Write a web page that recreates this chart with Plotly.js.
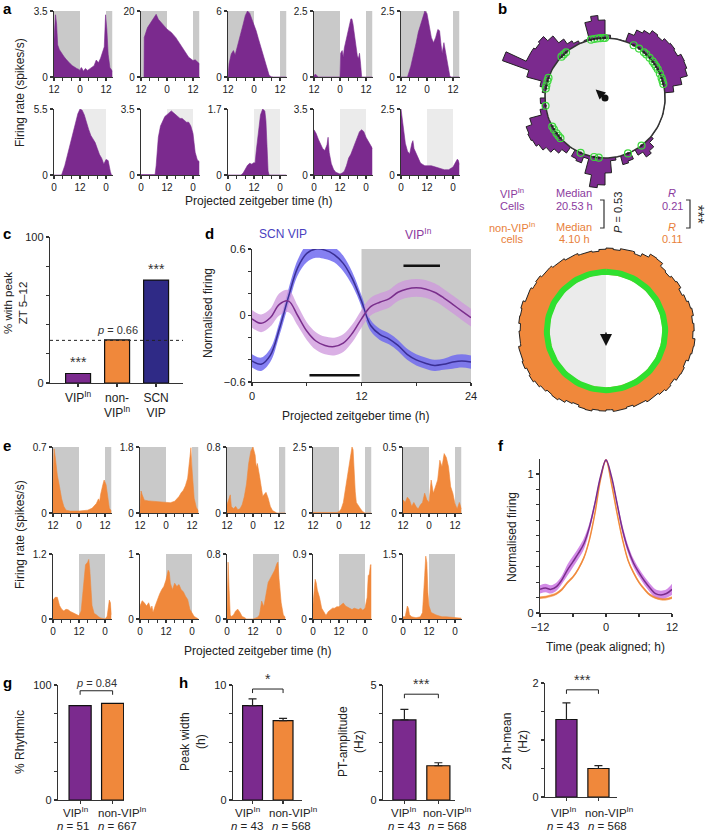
<!DOCTYPE html>
<html>
<head>
<meta charset="utf-8">
<script src="https://cdn.plot.ly/plotly-3.0.1.min.js"></script>
<style>body{margin:0;background:#fff}#fig{width:706px;height:834px}</style>
</head>
<body>
<div id="fig"></div>
<script>
// ---------- data ----------
const vipColor = '#7b2a8e';
const nonColor = '#f0883b';
const scnColor = '#2f2a86';

// panel a: example VIP-In units (time in h from axis start, rate in spikes/s)
const vipUnitMax = [3.5, 20, 6, 2.5, 2.5, 5.5, 3.5, 1.7, 3.5, 2.5];
const vipUnitT = [
  [0,0.7,1.2,1.7,2.5,3.5,4.5,5.5,6.5,7.5,8.5,9.5,10.5,11.5,12,12.5,13,13.5,14.5,15.5,16.5,17.5,18.5,19.5,20.5,21.5,22.5,23.2,23.8,24.4,25,25.8,27],
  [1.4,1.5,3,5,6,7,8,10,12,14,16,18,20,22,23,24,25,26,27],
  [0,0.5,1.5,2.5,3.3,4,5,6,7,8,9,10,11,12,13,14,15,16,17,18,19,20,21,27],
  [0,0.5,1,1.5,2,12,12.3,13,13.5,14,15,16,17,17.5,18,19,19.5,20,20.5,21,21.5,22,27],
  [0,3,4.5,6,7,8,9,10,11,12,13,14,15,16,17,17.8,18.5,19,19.8,20.5,21.5,22.5,23,27],
  [0,3.5,5,7,9,11,12,13,14,15,16,17,18,19,20,21,22,23,24,25,26,26.5,27],
  [0,6.5,7,8,9,10,11,12,13,14,15,16,17,18,19,20,21,22,23,24,25,26,27],
  [0,6,7,8,9,10,11,12,12.5,13,14,15,16,17,17.5,18,18.5,19,27],
  [0,1,2,3,4,5,6,6.5,7,8,9,10,11,12,13,14,15,16,17,18,19,20,21,22,23,24,25,26,27],
  [0,0.5,1,2,3,4,5,5.5,6,7,8,9,10,11,12,14,16,18,20,22,24,25,26,26.5,27]
];
const vipUnitRate = [
  [2.0,3.3,2.8,1.7,1.45,1.25,1.1,0.95,0.8,0.7,0.6,0.5,0.45,0.4,0.35,0.5,0.45,0.3,0.45,0.35,0.45,0.5,0.6,0.9,0.75,1.0,1.3,1.6,3.3,2.5,1.2,0.5,0.3],
  [0,12,15,17,18,19,17.5,16,14.5,13.5,12,10,8,6,5.5,5,5.2,4.5,4],
  [0,1.2,2.1,2.4,2.0,2.5,3.2,4.0,4.8,5.6,6.0,5.8,5.3,4.8,4.2,3.5,2.8,2.0,1.3,0.6,0.15,0.02,0,0],
  [0.05,0.1,0.08,0.05,0,0,0.9,1.0,0.75,1.1,1.5,1.9,2.2,2.2,2.0,1.4,1.0,0.8,0.7,0.9,0.5,0,0],
  [0,0,0.4,0.9,1.3,1.7,2.0,2.3,2.5,2.4,1.9,1.5,1.3,1.5,1.8,1.75,1.2,0.9,1.3,1.0,0.5,0.05,0,0],
  [0,0,0.8,2.3,3.8,5.1,5.5,5.4,5.0,4.3,3.8,3.3,3.0,2.7,2.2,1.7,1.4,0.9,1.3,1.2,0.3,0,0],
  [0.02,0.02,0.5,2.0,2.6,2.9,3.1,3.2,3.3,3.4,3.3,3.2,3.1,3.0,3.0,2.9,2.8,2.8,2.6,2.2,1.2,0.8,0.7],
  [0,0,0.05,0.15,0.25,0.3,0.28,0.32,0.3,0.6,1.1,1.55,1.7,1.65,1.4,0.5,0.1,0,0],
  [2.4,2.2,1.9,1.6,1.4,1.3,1.6,2.0,1.2,0.6,0.3,0.15,0.1,0.05,0.1,0.2,0.5,0.9,1.1,1.4,1.7,2.0,2.3,2.4,2.3,2.0,1.8,1.6,1.4],
  [2.5,2.2,1.8,1.2,0.9,0.8,1.2,1.3,1.0,0.8,0.6,0.45,0.4,0.35,0.35,0.35,0.3,0.25,0.2,0.2,0.3,0.45,0.6,0.55,0.4]
];

// panel e: example non-VIP-In units
const nonUnitMax = [0.7, 1.8, 0.8, 2.5, 0.5, 1.2, 1, 0.8, 0.9, 1.5];
const nonUnitT = [
  [0,0.5,1,2,3,4,5,6,8,12,16,18,20,21,21.5,22,23,23.6,24.5,25,26,27],
  [0,0.5,1,2,4,6,8,10,12,14,16,17,18,19,20,21,22,23,23.5,24,25,26,27],
  [0,1,1.5,2,3,4,5,6,7,8,9,10,11,12,13,13.5,14,15,16,16.5,17,18,19,20,21,22,23,27],
  [0,11,12,13,14,15,16,17,18,18.5,19,19.5,20,21,22,23,24,27],
  [0,1,2,3,4,5,6,7,8,9,10,11,12,12.5,13,14,15,16,17,18,19,20,21,22,23,24,25,26,27],
  [0,1,2,3,4,5,6,7,8,9,10,11,12,13,14,15,16,16.5,17,18,19,20,21,22,24,25,26,26.5,27],
  [0,1,2,3,4,5,5.5,6,7,8,9,10,11,12,13,13.5,14,15,16,17,18,19,20,21,22,23,24,25,26,27],
  [0,0.5,1,1.5,2,3,4,5,6,7,8,9,12,14,15,16,17,18,19,20,21,22,23,23.5,24,25,26,27],
  [0,0.5,1,1.5,2,3,4,5,6,7,8,9,10,11,12,13,14,15,16,17,18,19,20,21,22,23,24,24.5,25,25.5,26,26.5,27],
  [0,1,2,2.5,3,4,5,6,7,8,9,9.5,10,10.5,11,11.5,12,13,14,15,16,18,20,22,24,26,27]
];
const nonUnitRate = [
  [0.3,0.68,0.6,0.4,0.28,0.15,0.07,0.03,0.02,0.02,0.03,0.05,0.1,0.15,0.12,0.2,0.3,0.35,0.3,0.2,0.05,0.02],
  [0.15,0.6,0.5,0.35,0.33,0.32,0.33,0.32,0.3,0.28,0.32,0.38,0.45,0.55,0.62,0.75,0.95,1.5,1.78,1.2,0.4,0.15,0.05],
  [0.1,0.2,0.22,0.08,0.05,0.08,0.04,0.05,0.1,0.2,0.35,0.6,0.75,0.8,0.7,0.55,0.6,0.45,0.3,0.2,0.22,0.25,0.18,0.08,0.03,0.01,0,0],
  [0.02,0.02,0.05,0.15,0.4,0.9,1.5,2.0,2.5,2.4,1.5,0.8,0.4,0.25,0.15,0.05,0,0],
  [0.1,0.08,0.12,0.1,0.05,0.08,0.05,0.03,0.06,0.08,0.15,0.1,0.08,0.2,0.25,0.15,0.2,0.25,0.4,0.35,0.45,0.42,0.35,0.2,0.15,0.07,0.03,0.08,0.03],
  [0.35,0.4,0.4,0.25,0.18,0.15,0.18,0.17,0.14,0.12,0.1,0.08,0.06,0.15,0.55,1.0,1.05,1.1,0.9,0.25,0.1,0.08,0.04,0.02,0,0.05,0.35,0.3,0.08],
  [0.2,0.28,0.25,0.2,0.25,0.15,0.2,0.1,0.2,0.3,0.38,0.45,0.5,0.6,0.75,0.72,0.55,0.45,0.55,0.5,0.53,0.45,0.42,0.35,0.3,0.15,0.1,0.04,0.02,0],
  [0.1,0.7,0.35,0.05,0.03,0.05,0.1,0.12,0.08,0.03,0.02,0,0,0.02,0.05,0.22,0.15,0.3,0.45,0.5,0.55,0.6,0.68,0.7,0.5,0.2,0.05,0.02],
  [0.2,0.45,0.55,0.5,0.4,0.3,0.15,0.1,0.05,0.1,0.12,0.15,0.15,0.17,0.17,0.2,0.22,0.18,0.16,0.15,0.13,0.15,0.14,0.13,0.15,0.12,0.15,0.25,0.3,0.6,0.62,0.75,0.75],
  [0.05,0.05,0.3,0.25,0.1,0.05,0.04,0.03,0.04,0.05,0.15,0.5,1.0,1.45,1.3,0.6,0.3,0.15,0.12,0.1,0.08,0.05,0.05,0.04,0.03,0.02,0.02]
];
// shaded (dark) periods on the 0-27 h window
const shadeRow1 = [[0, 12], [24, 27]];
const shadeRow2 = [[12, 24]];

// panel b: phase histograms (outer radius per 5 deg bin, circle = 1)
const vipPolarR = [1.05,1.0,1.0,1.0,1.15,1.25,1.3,1.37,1.35,1.4,1.42,1.4,1.46,1.45,1.42,1.3,1.15,1.0,
  1.0,1.0,1.0,1.0,1.0,1.0,1.0,1.0,
  1.05,1.15,1.2,1.1,1.0,1.12,1.15,1.0,1.05,1.25,
  1.45,1.5,1.3,1.05,1.15,1.12,1.0,1.12,1.2,1.28,1.35,1.4,1.42,1.4,1.3,1.1,1.05,1.08,
  1.0,1.05,1.1,1.35,1.82,1.45,1.45,1.42,1.45,1.35,1.2,1.1,1.05,1.0,1.02,1.3,1.38,1.3];
const nonVipPolarR = [1.43,1.41,1.44,1.45,1.42,1.47,1.53,1.52,1.46,1.44,1.47,1.49,1.45,1.48,1.51,1.53,1.50,1.52,
  1.50,1.54,1.53,1.51,1.47,1.49,1.48,1.44,1.46,1.43,1.40,1.41,1.38,1.39,1.36,1.38,1.39,1.36,
  1.38,1.37,1.40,1.39,1.36,1.38,1.42,1.45,1.44,1.47,1.50,1.53,1.51,1.54,1.52,1.53,1.49,1.50,
  1.48,1.51,1.50,1.52,1.48,1.49,1.46,1.48,1.45,1.46,1.43,1.44,1.41,1.42,1.39,1.40,1.38,1.41];
const vipCellPhaseH = [23.1,23.3,23.5,23.7,23.9,0.0,1.9,2.3,2.7,2.9,3.2,3.5,3.7,3.9,4.1,4.4,4.7,4.9,5.1,
  9.5,10.5,12.4,12.7,13.6,15.2,15.4,15.6,15.9,16.1,17.5,18.6,18.8,19.1,19.3,20.9,21.1,21.3];
const vipMeanPhaseH = 20.8, vipVectorR = 0.21;
const nonVipMeanPhaseH = 12.0, nonVipArrowLen = 0.26;

// panel c
const peakCats = ['VIP<sup>In</sup>', 'non-<br>VIP<sup>In</sup>', 'SCN<br>VIP'];
const peakPct = [6.5, 29.5, 70.5];
const peakSig = ['***', '<i>p</i> = 0.66', '***'];
const chancePct = 29.2;

// panel d
const dTime = [0,1,2,3,4,5,6,7,8,9,10,11,12,13,14,15,16,17,18,19,20,21,22,23,24];
const scnMean = [-0.41,-0.44,-0.36,-0.12,0.17,0.43,0.56,0.6,0.59,0.55,0.47,0.33,0.13,-0.09,-0.17,-0.21,-0.27,-0.35,-0.4,-0.43,-0.45,-0.44,-0.42,-0.41,-0.42];
const scnSem = [0.06,0.06,0.06,0.06,0.07,0.07,0.08,0.08,0.08,0.07,0.07,0.06,0.05,0.05,0.05,0.05,0.05,0.05,0.05,0.05,0.05,0.05,0.06,0.06,0.06];
const vipMean = [-0.03,-0.07,-0.02,0.10,0.13,0.0,-0.14,-0.23,-0.27,-0.28,-0.25,-0.16,-0.03,0.08,0.12,0.15,0.21,0.24,0.25,0.24,0.21,0.16,0.1,0.04,-0.02];
const vipSem = [0.08,0.08,0.08,0.1,0.1,0.09,0.08,0.08,0.08,0.08,0.08,0.08,0.08,0.08,0.08,0.08,0.08,0.08,0.08,0.08,0.08,0.08,0.08,0.08,0.08];
const dSigStart = [6.3, 16.6], dSigEnd = [11.8, 20.6], dSigLevel = [-0.54, 0.45];

// panel f
const fTime = [-12,-11,-10,-9,-8,-7,-6,-5,-4,-3,-2,-1,0,1,2,3,4,5,6,7,8,9,10,11,12];
const fVip = [0.17,0.18,0.17,0.19,0.24,0.31,0.37,0.43,0.50,0.62,0.79,0.98,1.10,0.98,0.79,0.60,0.46,0.36,0.29,0.23,0.18,0.14,0.13,0.14,0.17];
const fVipSem = [0.03,0.03,0.03,0.03,0.03,0.04,0.04,0.04,0.04,0.03,0.02,0.01,0.01,0.01,0.02,0.03,0.03,0.03,0.03,0.03,0.03,0.03,0.03,0.03,0.04];
const fNon = [0.11,0.115,0.125,0.14,0.17,0.22,0.26,0.32,0.40,0.53,0.72,0.96,1.10,0.93,0.72,0.53,0.38,0.29,0.22,0.17,0.13,0.11,0.10,0.10,0.11];
const fNonSem = [0.01,0.01,0.01,0.01,0.01,0.01,0.01,0.01,0.01,0.01,0.01,0.01,0.01,0.01,0.01,0.01,0.01,0.01,0.01,0.01,0.01,0.01,0.01,0.01,0.01];

// panels g, h
const groupNames = ['VIP<sup>In</sup>', 'non-VIP<sup>In</sup>'];
const rhythmicPct = [82, 84];
const rhythmicN = [51, 667];
const peakWidth = [8.2, 6.9], peakWidthSem = [0.6, 0.2];
const ptAmp = [3.48, 1.49], ptAmpSem = [0.46, 0.13];
const mean24 = [1.36, 0.5], mean24Sem = [0.29, 0.05];
const propN = [43, 568];

// ---------- helpers ----------
const W = 706, H = 834;
const fx = v => v / W;
const fy = v => 1 - v / H;
const FONT = 'Liberation Sans, Arial, sans-serif';
const traces = [], shapes = [], annotations = [];
const layout = {
  width: W, height: H, margin: {l: 0, r: 0, t: 0, b: 0},
  paper_bgcolor: '#fff', plot_bgcolor: 'rgba(0,0,0,0)', showlegend: false,
  font: {family: FONT, size: 11, color: '#222'}
};

function baseAxis() {
  return {showline: true, linecolor: '#333', linewidth: 1.3, ticks: 'outside', ticklen: 3,
    tickwidth: 1.2, tickcolor: '#333', showgrid: false, zeroline: false,
    tickfont: {size: 10, color: '#222'}, fixedrange: true, automargin: false};
}
function minorTicks(dtick, len) {
  return {tickmode: 'linear', tick0: 0, dtick: dtick, ticks: 'outside', ticklen: len || 2.5, tickwidth: 1.1, tickcolor: '#333', showgrid: false};
}
let axN = 0;
function newAxes(xPx, yPx, xOpt, yOpt) {
  axN++;
  const s = axN === 1 ? '' : String(axN);
  layout['xaxis' + s] = Object.assign(baseAxis(), {domain: [fx(xPx[0]), fx(xPx[1])], anchor: 'y' + s}, xOpt);
  layout['yaxis' + s] = Object.assign(baseAxis(), {domain: [fy(yPx[1]), fy(yPx[0])], anchor: 'x' + s}, yOpt);
  return {x: 'x' + s, y: 'y' + s};
}
function note(x, y, text, size, color, extra) {
  annotations.push(Object.assign({xref: 'paper', yref: 'paper', x: fx(x), y: fy(y), text: text,
    showarrow: false, xanchor: 'center', yanchor: 'middle',
    font: {family: FONT, size: size || 12, color: color || '#222'}}, extra || {}));
}
function panelLabel(x, y, t) { note(x, y, '<b>' + t + '</b>', 15, '#000', {xanchor: 'left'}); }

// small firing-rate panels
function unitPanel(x0, rowY, t, r, max, color, shade, spans, labels) {
  const a = newAxes([x0, x0 + 58.5], rowY,
    {range: [0, 27], tickvals: [0, 12, 24], ticktext: labels, ticklen: 3, minor: minorTicks(4, 2.5)},
    {range: [0, max], tickvals: [0, max], ticktext: ['0', String(max)]});
  traces.push({type: 'scatter', mode: 'lines', x: t, y: r, xaxis: a.x, yaxis: a.y,
    fill: 'tozeroy', fillcolor: color, line: {color: color, width: 0.6}, hoverinfo: 'skip'});
  spans.forEach(s => shapes.push({type: 'rect', xref: a.x, yref: a.y + ' domain', x0: s[0], x1: s[1], y0: 0, y1: 1,
    fillcolor: shade, line: {width: 0}, layer: 'below'}));
}
const lab1 = ['12', '0', '12'];
const lab2 = ['0', '12', '0'];
const aX = [54, 141, 228, 314, 401];
const eX = [53, 140, 227, 313, 403];
for (let i = 0; i < 10; i++) {
  const row = Math.floor(i / 5), col = i % 5;
  unitPanel(aX[col], row ? [109, 175] : [11, 77], vipUnitT[i], vipUnitRate[i], vipUnitMax[i], vipColor,
    row ? '#ebebeb' : '#c9c9c9', row ? shadeRow2 : shadeRow1, row ? lab2 : lab1);
}
for (let i = 0; i < 10; i++) {
  const row = Math.floor(i / 5), col = i % 5;
  unitPanel(eX[col], row ? [554, 619] : [447, 513], nonUnitT[i], nonUnitRate[i], nonUnitMax[i], nonColor,
    '#c9c9c9', row ? shadeRow2 : shadeRow1, row ? lab2 : lab1);
}
note(20, 93, 'Firing rate (spikes/s)', 12, '#222', {textangle: -90});
note(258, 201, 'Projected zeitgeber time (h)', 12);
note(20, 535, 'Firing rate (spikes/s)', 12, '#222', {textangle: -90});
note(257, 651, 'Projected zeitgeber time (h)', 12);

// panel c
(function () {
  const a = newAxes([50, 183], [237, 383],
    {range: [-0.72, 2.69], tickvals: [0, 1, 2], ticktext: peakCats, tickfont: {size: 12, color: '#222'}, ticklen: 3},
    {range: [0, 100], tickvals: [0, 100], ticktext: ['0', '100'], tickfont: {size: 11, color: '#222'}, minor: minorTicks(20, 3)});
  traces.push({type: 'bar', x: [0, 1, 2], y: peakPct, width: 0.64, xaxis: a.x, yaxis: a.y,
    marker: {color: [vipColor, nonColor, scnColor], line: {color: '#111', width: 1.2}}, hoverinfo: 'skip'});
  shapes.push({type: 'line', xref: a.x + ' domain', yref: a.y, x0: 0, x1: 1, y0: chancePct, y1: chancePct,
    line: {color: '#222', width: 1, dash: 'dot'}});
  peakPct.forEach((v, i) => annotations.push({xref: a.x, yref: a.y, x: i, y: v + 1, text: peakSig[i], showarrow: false,
    yanchor: 'bottom', font: {family: FONT, size: i === 1 ? 11 : 14, color: '#333'}}));
  note(16, 303, '% with peak<br>ZT 5–12', 11.5, '#222', {textangle: -90});
})();

// panel d
(function () {
  const a = newAxes([252, 471], [249, 382],
    {range: [0, 24], tickvals: [0, 12, 24], ticktext: ['0', '12', '24'], tickfont: {size: 11, color: '#222'}, minor: minorTicks(6, 3)},
    {range: [-0.6, 0.6], tickvals: [-0.6, 0, 0.6], ticktext: ['−0.6', '0', '0.6'], tickfont: {size: 11, color: '#222'},
     minor: {tickmode: 'linear', tick0: -0.6, dtick: 0.2, ticks: 'outside', ticklen: 3, tickwidth: 1.1, tickcolor: '#333', showgrid: false}});
  shapes.push({type: 'rect', xref: a.x, yref: a.y + ' domain', x0: 12, x1: 24, y0: 0, y1: 1, fillcolor: '#c9c9c9', line: {width: 0}, layer: 'below'});
  function band(mean, sem, fill) {
    traces.push({type: 'scatter', mode: 'lines', x: dTime, y: mean.map((m, i) => m - sem[i]), xaxis: a.x, yaxis: a.y,
      line: {width: 0, shape: 'spline'}, hoverinfo: 'skip'});
    traces.push({type: 'scatter', mode: 'lines', x: dTime, y: mean.map((m, i) => m + sem[i]), xaxis: a.x, yaxis: a.y,
      line: {width: 0, shape: 'spline'}, fill: 'tonexty', fillcolor: fill, hoverinfo: 'skip'});
  }
  band(scnMean, scnSem, 'rgba(112,106,240,0.85)');
  band(vipMean, vipSem, 'rgba(205,150,220,0.75)');
  traces.push({type: 'scatter', mode: 'lines', x: dTime, y: scnMean, xaxis: a.x, yaxis: a.y, line: {color: '#3a2f95', width: 1.5, shape: 'spline'}, hoverinfo: 'skip'});
  traces.push({type: 'scatter', mode: 'lines', x: dTime, y: vipMean, xaxis: a.x, yaxis: a.y, line: {color: '#7a2e8c', width: 1.5, shape: 'spline'}, hoverinfo: 'skip'});
  dSigStart.forEach((s, i) => traces.push({type: 'scatter', mode: 'lines', x: [s, dSigEnd[i]], y: [dSigLevel[i], dSigLevel[i]],
    xaxis: a.x, yaxis: a.y, line: {color: '#111', width: 2.5}, hoverinfo: 'skip'}));
  note(283, 234, 'SCN VIP', 12, '#4a3fc0');
  note(418, 234, 'VIP<sup>In</sup>', 12, '#8b3a9e');
  note(208, 313, 'Normalised firing', 12, '#222', {textangle: -90});
  note(355, 416, 'Projected zeitgeber time (h)', 12);
})();

// panel f
(function () {
  const a = newAxes([540, 672], [459, 613],
    {range: [-12, 12], tickvals: [-12, 0, 12], ticktext: ['−12', '0', '12'], tickfont: {size: 11, color: '#222'},
     minor: {tickmode: 'linear', tick0: -12, dtick: 6, ticks: 'outside', ticklen: 3, tickwidth: 1.1, tickcolor: '#333', showgrid: false}},
    {range: [0, 1.108], tickvals: [0, 1], ticktext: ['0', '1'], tickfont: {size: 11, color: '#222'}, minor: minorTicks(1 / 9, 3)});
  function band(mean, sem, fill) {
    traces.push({type: 'scatter', mode: 'lines', x: fTime, y: mean.map((m, i) => m - sem[i]), xaxis: a.x, yaxis: a.y, line: {width: 0, shape: 'spline'}, hoverinfo: 'skip'});
    traces.push({type: 'scatter', mode: 'lines', x: fTime, y: mean.map((m, i) => m + sem[i]), xaxis: a.x, yaxis: a.y, line: {width: 0, shape: 'spline'}, fill: 'tonexty', fillcolor: fill, hoverinfo: 'skip'});
  }
  band(fNon, fNonSem, 'rgba(245,170,110,0.8)');
  band(fVip, fVipSem, 'rgba(200,110,225,0.8)');
  traces.push({type: 'scatter', mode: 'lines', x: fTime, y: fNon, xaxis: a.x, yaxis: a.y, line: {color: '#f08a3c', width: 1.5, shape: 'spline'}, hoverinfo: 'skip'});
  traces.push({type: 'scatter', mode: 'lines', x: fTime, y: fVip, xaxis: a.x, yaxis: a.y, line: {color: '#7a2e8c', width: 1.5, shape: 'spline'}, hoverinfo: 'skip'});
  note(512, 537, 'Normalised firing', 12, '#222', {textangle: -90});
  note(605, 647, 'Time (peak aligned; h)', 12);
})();

// panels g, h
function groupPanel(xPx, yPx, xr, yMax, vals, sems, barW, brY, sigText, labX, nX, nVals, yTitle, titleX) {
  const a = newAxes(xPx, yPx,
    {range: xr, tickvals: [0, 1], showticklabels: false},
    {range: [0, yMax], tickvals: [0, yMax], ticktext: ['0', String(yMax)], tickfont: {size: 11, color: '#222'}, minor: minorTicks(yMax / 4, 3)});
  const bar = {type: 'bar', x: [0, 1], y: vals, width: barW, xaxis: a.x, yaxis: a.y,
    marker: {color: [vipColor, nonColor], line: {color: '#111', width: 1.2}}, hoverinfo: 'skip'};
  if (sems) bar.error_y = {type: 'data', symmetric: false, array: sems, arrayminus: [0, 0], color: '#222', thickness: 1.2, width: 4};
  traces.push(bar);
  const d = yMax * 0.035;
  traces.push({type: 'scatter', mode: 'lines', x: [0, 0, 1, 1], y: [brY - d, brY, brY, brY - d], xaxis: a.x, yaxis: a.y,
    line: {color: '#222', width: 1}, hoverinfo: 'skip', cliponaxis: false});
  annotations.push({xref: a.x, yref: a.y, x: 0.5, y: brY, yanchor: 'bottom', text: sigText, showarrow: false,
    font: {family: FONT, size: sigText.indexOf('*') >= 0 ? 14 : 11, color: '#333'}});
  groupNames.forEach((g, i) => {
    note(labX[i], 812, g, 11.5);
    note(nX[i], 826, '<i>n</i> = ' + nVals[i], 11.5);
  });
  note(titleX, 742, yTitle, 12, '#222', {textangle: -90});
}
groupPanel([58, 124], [685, 800], [-0.68, 1.35], 100, rhythmicPct, null, 0.68, 95, '<i>p</i> = 0.84',
  [75, 122], [73, 117], rhythmicN, '% Rhythmic', 20);
groupPanel([233, 302], [685, 800], [-0.64, 1.62], 10, peakWidth, peakWidthSem, 0.65, 9.65, '*',
  [247, 293], [247, 291], propN, 'Peak width<br>(h)', 193);
groupPanel([383, 455], [685, 800], [-0.63, 1.49], 5, ptAmp, ptAmpSem, 0.68, 4.6, '***',
  [403, 447], [404, 447], propN, 'PT-amplitude<br>(Hz)', 351);
groupPanel([545, 617], [683, 797], [-0.67, 1.58], 2, mean24, mean24Sem, 0.66, 1.88, '***',
  [563, 609], [563, 607], propN, '24 h-mean<br>(Hz)', 515);

// panel b
function pxy(r, deg) { const t = deg * Math.PI / 180; return [r * Math.sin(t), r * Math.cos(t)]; }
function arcPts(r, d0, d1, n) {
  const xs = [], ys = [];
  for (let k = 0; k <= n; k++) { const p = pxy(r, d0 + (d1 - d0) * k / n); xs.push(p[0]); ys.push(p[1]); }
  return [xs, ys];
}
function histPts(rs) {
  const bw = 360 / rs.length, xs = [], ys = [];
  rs.forEach((r, i) => { for (let k = 0; k <= 3; k++) { const p = pxy(r, (i + k / 3) * bw); xs.push(p[0]); ys.push(p[1]); } });
  xs.push(xs[0]); ys.push(ys[0]);
  return [xs, ys];
}
function hidden(range) { return {range: range, visible: false}; }
(function () {
  const a = newAxes([490, 706], [0, 200], hidden([-1.917, 1.683]), hidden([-1.7, 1.633]));
  const h = histPts(vipPolarR);
  traces.push({type: 'scatter', mode: 'lines', x: h[0], y: h[1], xaxis: a.x, yaxis: a.y, fill: 'toself', fillcolor: vipColor, line: {color: '#222', width: 1}, hoverinfo: 'skip'});
  const disc = arcPts(1, 0, 360, 120);
  traces.push({type: 'scatter', mode: 'lines', x: disc[0], y: disc[1], xaxis: a.x, yaxis: a.y, fill: 'toself', fillcolor: '#fff', line: {width: 0}, hoverinfo: 'skip'});
  const half = arcPts(1, 180, 360, 60);
  traces.push({type: 'scatter', mode: 'lines', x: half[0], y: half[1], xaxis: a.x, yaxis: a.y, fill: 'toself', fillcolor: '#ebebeb', line: {width: 0}, hoverinfo: 'skip'});
  traces.push({type: 'scatter', mode: 'lines', x: disc[0], y: disc[1], xaxis: a.x, yaxis: a.y, line: {color: '#333', width: 1.5}, hoverinfo: 'skip'});
  const cx = vipCellPhaseH.map(hh => pxy(1, hh * 15)[0]), cy = vipCellPhaseH.map(hh => pxy(1, hh * 15)[1]);
  traces.push({type: 'scatter', mode: 'markers', x: cx, y: cy, xaxis: a.x, yaxis: a.y, marker: {symbol: 'circle-open', size: 7, color: '#3cd83c', line: {width: 1.2}}, hoverinfo: 'skip'});
  traces.push({type: 'scatter', mode: 'markers', x: cx, y: cy, xaxis: a.x, yaxis: a.y, marker: {size: 2.5, color: '#222'}, hoverinfo: 'skip'});
  traces.push({type: 'scatter', mode: 'markers', x: [0], y: [0], xaxis: a.x, yaxis: a.y, marker: {size: 7, color: '#111'}, hoverinfo: 'skip'});
  const tip = pxy(vipVectorR, vipMeanPhaseH * 15);
  annotations.push({xref: a.x, yref: a.y, axref: a.x, ayref: a.y, x: tip[0], y: tip[1], ax: 0, ay: 0, text: '',
    showarrow: true, arrowhead: 2, arrowsize: 1.2, arrowwidth: 1.6, arrowcolor: '#111'});
})();
(function () {
  const a = newAxes([490, 706], [242, 420], hidden([-2.0, 1.724]), hidden([-1.534, 1.534]));
  const h = histPts(nonVipPolarR);
  traces.push({type: 'scatter', mode: 'lines', x: h[0], y: h[1], xaxis: a.x, yaxis: a.y, fill: 'toself', fillcolor: nonColor, line: {color: '#222', width: 1}, hoverinfo: 'skip'});
  const disc = arcPts(0.97, 0, 360, 120);
  traces.push({type: 'scatter', mode: 'lines', x: disc[0], y: disc[1], xaxis: a.x, yaxis: a.y, fill: 'toself', fillcolor: '#fff', line: {width: 0}, hoverinfo: 'skip'});
  const half = arcPts(0.97, 180, 360, 60);
  traces.push({type: 'scatter', mode: 'lines', x: half[0], y: half[1], xaxis: a.x, yaxis: a.y, fill: 'toself', fillcolor: '#ebebeb', line: {width: 0}, hoverinfo: 'skip'});
  const ring = arcPts(1.02, 0, 360, 120);
  traces.push({type: 'scatter', mode: 'lines', x: ring[0], y: ring[1], xaxis: a.x, yaxis: a.y, line: {color: '#2fe02f', width: 6}, hoverinfo: 'skip'});
  const tip = pxy(nonVipArrowLen, nonVipMeanPhaseH * 15);
  annotations.push({xref: a.x, yref: a.y, axref: a.x, ayref: a.y, x: tip[0], y: tip[1], ax: 0, ay: 0, text: '',
    showarrow: true, arrowhead: 2, arrowsize: 1.6, arrowwidth: 1.5, arrowcolor: '#111'});
})();
// b stats text
const pur = '#8b3a9e', ora = '#e8803a';
note(512, 193, 'VIP<sup>In</sup>', 11, pur); note(512, 206, 'Cells', 11, pur);
note(574, 193, 'Median', 11, pur); note(574, 206, '20.53 h', 11, pur);
note(672, 193, '<i>R</i>', 11, pur); note(672, 206, '0.21', 11, pur);
note(512, 227, 'non-VIP<sup>In</sup>', 11, ora); note(512, 239, 'cells', 11, ora);
note(574, 227, 'Median', 11, ora); note(574, 239, '4.10 h', 11, ora);
note(672, 227, '<i>R</i>', 11, ora); note(672, 239, '0.11', 11, ora);
function bracket(xp, y0, y1) {
  shapes.push({type: 'path', xref: 'paper', yref: 'paper',
    path: 'M' + fx(xp - 4) + ',' + fy(y0) + ' L' + fx(xp) + ',' + fy(y0) + ' L' + fx(xp) + ',' + fy(y1) + ' L' + fx(xp - 4) + ',' + fy(y1),
    line: {color: '#333', width: 1.2}});
}
bracket(604, 200, 228);
bracket(690, 200, 228);
note(618, 213, '<i>P</i> = 0.53', 11, '#222', {textangle: -90});
note(697, 214, '***', 16, '#333', {textangle: 90});

// panel letters
panelLabel(1, 8, 'a'); panelLabel(496, 8, 'b'); panelLabel(1, 233, 'c'); panelLabel(203, 233, 'd');
panelLabel(1, 445, 'e'); panelLabel(496, 445, 'f'); panelLabel(1, 682, 'g'); panelLabel(177, 682, 'h');

layout.shapes = shapes;
layout.annotations = annotations;
Plotly.newPlot('fig', traces, layout, {displayModeBar: false, staticPlot: true});
</script>
</body>
</html>
